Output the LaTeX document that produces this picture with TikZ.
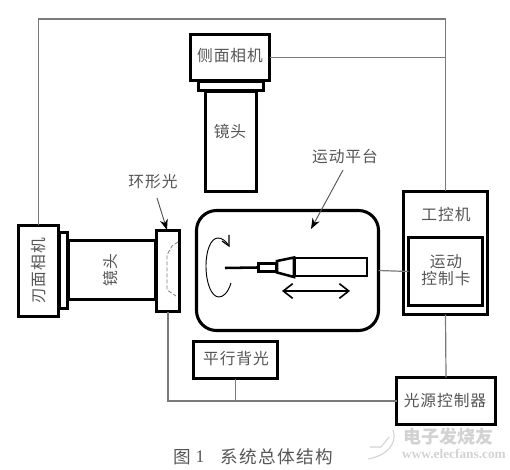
\documentclass[tikz,border=0pt]{standalone}
\usepackage{fontspec}
\usetikzlibrary{arrows.meta}
\setmainfont{Liberation Serif}
\newfontfamily\cjklbl[LetterSpace=6]{Noto Sans CJK SC}
\newfontfamily\cjkcap[LetterSpace=8]{Noto Sans CJK SC}
\newfontfamily\cjkmark{Noto Sans CJK SC}
\definecolor{inkgray}{HTML}{555555}
\definecolor{wiregray}{HTML}{7A7A7A}
\definecolor{markgray}{HTML}{D2D2D2}
\tikzset{
  px/.style={x=0.75pt,y=-0.75pt},
  hbox/.style={draw=black,line width=2.3pt,fill=white,inner sep=0pt,outer sep=0pt},
  thinbox/.style={draw=black,line width=1.9pt,fill=white,inner sep=0pt,outer sep=0pt},
  lbl/.style={inner sep=0pt,text=inkgray,font=\cjklbl\fontsize{11.8}{14}\selectfont,align=center},
  wire/.style={draw=wiregray,line width=0.9pt},
  pointer/.style={draw=inkgray,line width=0.7pt,-{Stealth[length=8pt,width=6pt,color=black]}},
  tool/.style={draw=black,line width=1.9pt,fill=white,line join=miter}
}
\newcommand{\bx}[7]{\node[#6,minimum width={(#4-#2-3)*0.75pt},minimum height={(#5-#3-3)*0.75pt},text=inkgray,align=center] (#1) at ({(#2+#4)/2},{(#3+#5)/2}) {#7};}
\begin{document}
\begin{tikzpicture}[px]
\useasboundingbox (0,0) rectangle (510,470);
\coordinate (tl) at (38.5,19);
\coordinate (tr) at (445.5,19);

\bx{sidecam}{189}{33}{271}{82}{hbox}{}
\bx{platform}{195}{209}{380}{332}{hbox,rounded corners=15pt}{}
\bx{ipc}{402}{190}{489}{316}{hbox}{}
\bx{card}{407}{236}{484}{307}{hbox}{}
\bx{bladecam}{17}{224}{60}{318}{hbox}{}
\bx{ring}{155}{229}{181}{313}{hbox}{}
\bx{back}{192}{340}{279}{380}{hbox}{}
\bx{source}{395}{376}{497}{426}{hbox}{}

\draw[wire] (bladecam) -- (tl) -- (tr) -- (ipc);
\draw[wire] (sidecam.east) -- (sidecam.east -| tr);
\draw[wire] (platform.east) -- (card.west);
\draw[wire] (ipc.south) -- (source.north);
\draw[wire] (ring.south) -- (ring.south |- source.west) -- (source.west);
\draw[wire] (back.south) -- (back.south |- source.west);

% side camera
\bx{sideneck}{197}{80}{265}{92}{thinbox}{}
\bx{sidelens}{204}{90}{258}{193}{hbox}{}
\node[lbl] (sidetext) at (230,56) {侧面相机};
\node[lbl] (sidelenstext) at (230,132) {镜头};

% blade camera
\bx{bladeneck}{58}{231}{69}{310}{thinbox}{}
\bx{bladelens}{67}{239}{157}{301}{thinbox}{}
\node[lbl,rotate=90] (bladetext) at (38.5,271) {刃面相机};
\node[lbl,rotate=90] (bladelenstext) at (110,270) {镜头};

% ring light
\draw[draw=gray,line width=0.6pt,dash pattern=on 3pt off 1.5pt] (178,242) -- (172,246) -- (167,255) -- (167,290) -- (176,296);
\node[lbl] (ringtext) at (153,182) {环形光};
\coordinate (ringtip) at (167,230);
\coordinate (ringstart) at (157,198);
\draw[pointer] (ringstart) -- (ringtip);

% motion platform content
\node[lbl] (platformtext) at (345,157) {运动平台};
\coordinate (platstart) at (343,170);
\coordinate (plattip) at (311,229);
\draw[pointer] (platstart) -- (plattip);
\coordinate (needle) at (225,268);
\node[tool,minimum width=13.5pt,minimum height=6pt,inner sep=0pt] (ferrule) at (267.5,267.5) {};
\draw[black,line width=1.9pt] (needle) -- (ferrule.west);
\coordinate (c1) at (277,261);
\coordinate (c2) at (294,257.5);
\coordinate (c3) at (294,277);
\coordinate (c4) at (277,272.5);
\draw[tool] (c1) -- (c2) -- (c3) -- (c4) -- cycle;
\node[tool,minimum width=54pt,minimum height=13.5pt,inner sep=0pt] (body) at (331,267) {};
\coordinate (m1) at (282,291);
\coordinate (m2) at (350,291);
\draw[black,line width=1.2pt,{Straight Barb[length=7pt,width=11pt]}-{Straight Barb[length=7pt,width=11pt]}] (m1) -- (m2);
\coordinate (rotend) at (229,246);
\draw[black,line width=0.7pt] (231,283) .. controls (228,293) and (223,297) .. (219,297)
   .. controls (211,297) and (206,282) .. (206,266)
   .. controls (206,250) and (211,238) .. (218,238)
   .. controls (222,238) and (226,241) .. (rotend);
\draw[black,line width=0.9pt] (229,235) -- (rotend) -- (222,241);

% right side labels
\node[lbl] (ipctext) at (446,215) {工控机};
\node[lbl] (cardtext) at (446,270) {运动\\[-1pt]控制卡};
\node[lbl] (backtext) at (236,359) {平行背光};
\node[lbl] (sourcetext) at (445,401) {光源控制器};

% caption
\node[inner sep=0pt,text=inkgray,anchor=west,font=\cjkcap\fontsize{13.2}{15}\selectfont] (capfig) at (173,457) {图};
\node[inner sep=0pt,text=inkgray,font=\fontsize{13.2}{15}\selectfont] (capnum) at (200,457) {1};
\node[inner sep=0pt,text=inkgray,anchor=west,font=\cjkcap\fontsize{13.2}{15}\selectfont] (captext) at (220,457) {系统总体结构};

% watermark
\draw[markgray,line width=0.8pt] (393,430) .. controls (398,445) and (385,456) .. (368,459);
\draw[markgray,line width=0.8pt] (389,437) -- (381,447) -- (370,447);
\node[inner sep=0pt,text=markgray,font=\cjkmark\bfseries\fontsize{13.5}{15}\selectfont] (marktext) at (448,437) {电子发烧友};
\node[inner sep=0pt,text=markgray,font=\rmfamily\bfseries\fontsize{10}{11}\selectfont] (markurl) at (454,454) {www.elecfans.com};
\end{tikzpicture}
\end{document}
